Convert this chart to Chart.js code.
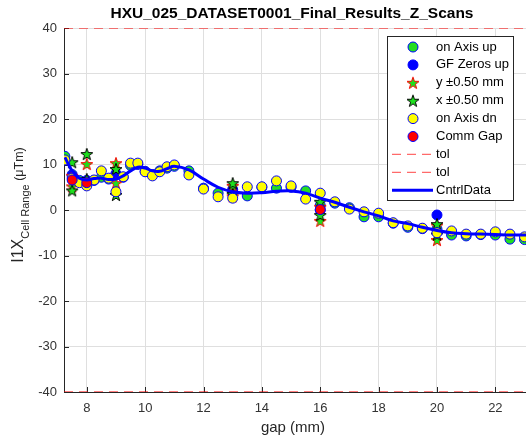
<!DOCTYPE html>
<html>
<head>
<meta charset="utf-8">
<script src="https://cdn.jsdelivr.net/npm/chart.js@4.4.1/dist/chart.umd.min.js"></script>
<style>
  body { margin: 0; background: #fff; }
  canvas { display: block; }
</style>
</head>
<body>
<canvas id="chart" width="526" height="443"></canvas>
<script>
var FONT = "'Liberation Sans', Arial, Helvetica, sans-serif";

var chartTitle = 'HXU_025_DATASET0001_Final_Results_Z_Scans';
var xTitle = 'gap (mm)';
var xTicks = [8, 10, 12, 14, 16, 18, 20, 22];
var yTicks = [-40, -30, -20, -10, 0, 10, 20, 30, 40];

// main z scans
var gapScan = [7.25, 7.5, 7.75, 8, 8.25, 8.5, 8.75, 9, 9.25, 9.5, 9.75, 10, 10.25, 10.5, 10.75, 11,
  11.5, 12, 12.5, 13, 13.5, 14, 14.5, 15, 15.5, 16, 16.5, 17, 17.5, 18, 18.5, 19, 19.5, 20, 20.5, 21, 21.5, 22, 22.5, 23];
var onAxisUp = [11.8, 7.8, 6.5, 6.0, 6.5, 7.2, 6.8, 8.0, 7.2, 9.8, 10.0, 8.5, 7.8, 8.6, 9.2, 9.6,
  8.6, 4.8, 3.7, 4.0, 3.1, 5.0, 4.8, 5.0, 4.2, 1.0, 1.5, 0.5, -1.5, -1.5, -2.9, -3.8, -4.1, -4.2, -5.5, -5.7, -5.4, -5.5, -6.4, -6.5];
var onAxisDn = [11.0, 7.0, 6.0, 5.3, 6.6, 8.6, 7.0, 4.0, 7.3, 10.3, 10.3, 8.4, 7.5, 8.4, 9.5, 9.9,
  7.7, 4.6, 2.9, 2.6, 5.1, 5.1, 6.4, 5.3, 2.4, 3.7, 1.8, 0.2, -0.4, -0.7, -2.8, -3.5, -4.0, -5.0, -4.6, -5.3, -5.3, -4.8, -5.3, -5.9];

// cross checks
var gapCross = [7.5, 8, 9, 13, 16, 20];
var gfZerosUp = [7.5, 6.5, 7.8, 4.5, 0.0, -1.1];
var gapStar = [7.5, 7.5, 8, 8, 9, 9, 13, 13, 16, 16, 20, 20];
var yStar = [7.5, 5.2, 10.1, 6.2, 10.3, 5.9, 5.3, 3.0, 0.7, -2.4, -3.4, -6.6];
var xStar = [10.5, 4.3, 12.3, 6.8, 9.0, 3.3, 5.9, 3.5, 1.8, -1.1, -3.1, -5.4];
var gapComm = [7.5, 8, 16];
var commGap = [6.6, 6.0, 0.1];

// control curve
var gapCntrl = [7.25, 7.5, 7.75, 8, 8.25, 8.5, 8.75, 9, 9.25, 9.5, 9.75, 10, 10.25, 10.5, 10.75, 11,
  11.5, 12, 12.5, 13, 13.5, 14, 14.5, 15, 15.5, 16, 16.5, 17, 17.5, 18, 18.5, 19, 19.5, 20, 20.5, 21, 21.5, 22, 22.5, 23, 23.5];
var cntrlData = [11.6, 8.6, 7.0, 6.6, 6.9, 7.0, 6.7, 6.8, 7.5, 8.6, 9.4, 9.2, 8.6, 8.5, 9.1, 9.6,
  8.8, 6.8, 5.0, 4.0, 3.7, 3.8, 4.1, 4.2, 3.7, 2.6, 1.7, 0.6, -0.4, -1.3, -2.4, -3.0, -3.8, -4.5, -5.0, -5.2, -5.3, -5.4, -5.5, -5.5, -5.5];

var tolHigh = 40, tolLow = -40;
var xMin = 7.22, xMax = 23.05;

function pts(xs, ys) {
  return xs.map(function (x, i) { return { x: x, y: ys[i] }; });
}

function makeStar(fill, edge) {
  var c = document.createElement('canvas');
  c.width = 16; c.height = 16;
  var g = c.getContext('2d');
  var R = 6.3, r = R * 0.4;
  g.beginPath();
  for (var i = 0; i < 10; i++) {
    var a = -Math.PI / 2 + i * Math.PI / 5;
    var rad = i % 2 ? r : R;
    g.lineTo(8 + rad * Math.cos(a), 8.6 + rad * Math.sin(a));
  }
  g.closePath();
  g.fillStyle = fill; g.fill();
  g.strokeStyle = edge; g.lineWidth = 1; g.stroke();
  return c;
}
var starY = makeStar('#1ee01e', '#ff0000');
var starX = makeStar('#1ee01e', '#000000');

function marker(label, data, fill, edge, order) {
  return {
    label: label, data: data, showLine: false, order: order,
    pointStyle: 'circle', pointRadius: 5, pointBorderWidth: 1,
    pointBackgroundColor: fill, pointBorderColor: edge,
    backgroundColor: fill, borderColor: edge
  };
}
function starSet(label, data, img, order) {
  return {
    label: label, data: data, showLine: false, order: order,
    pointStyle: img, pointRadius: 6, starImg: img
  };
}
function tolSet(v, order) {
  return {
    label: 'tol', data: [{ x: xMin, y: v }, { x: xMax, y: v }], order: order,
    borderColor: '#ff0000', borderWidth: 1.2, borderDash: [9, 6], pointRadius: 0, isLine: true
  };
}

var datasets = [
  marker('on Axis up', pts(gapScan, onAxisUp), '#22dd22', '#0000ff', 9),
  marker('GF Zeros up', pts(gapCross, gfZerosUp), '#0000ff', '#0000ff', 8),
  starSet('y \u00b10.50 mm', pts(gapStar, yStar), starY, 7),
  starSet('x \u00b10.50 mm', pts(gapStar, xStar), starX, 6),
  marker('on Axis dn', pts(gapScan, onAxisDn), '#ffff00', '#0000ff', 5),
  marker('Comm Gap', pts(gapComm, commGap), '#ff0000', '#0000ff', 4),
  tolSet(tolHigh, 3),
  tolSet(tolLow, 2),
  {
    label: 'CntrlData', data: pts(gapCntrl, cntrlData), order: 1, isLine: true,
    borderColor: '#0000ff', borderWidth: 3, pointRadius: 0, tension: 0.4
  }
];

var decor = {
  id: 'decor',
  beforeDatasetsDraw: function (chart) {
    var ctx = chart.ctx, a = chart.chartArea, sx = chart.scales.x, sy = chart.scales.y;
    ctx.save();
    ctx.strokeStyle = '#262626';
    ctx.lineWidth = 1;
    ctx.beginPath();
    xTicks.forEach(function (v) {
      var px = Math.round(sx.getPixelForValue(v)) + 0.5;
      ctx.moveTo(px, a.bottom); ctx.lineTo(px, a.bottom - 5);
    });
    yTicks.forEach(function (v) {
      var py = Math.round(sy.getPixelForValue(v)) + 0.5;
      ctx.moveTo(a.left, py); ctx.lineTo(a.left + 5, py);
    });
    ctx.stroke();
    ctx.restore();
  },
  afterDraw: function (chart) {
    var ctx = chart.ctx;
    ctx.save();
    // title
    ctx.fillStyle = '#000';
    ctx.font = 'bold 15.5px ' + FONT;
    ctx.textAlign = 'center';
    ctx.textBaseline = 'middle';
    ctx.fillText(chartTitle, 292, 14);
    // x title
    ctx.fillStyle = '#262626';
    ctx.font = '15px ' + FONT;
    ctx.fillText(xTitle, 293, 428);
    // y title with subscript
    ctx.translate(23, 205);
    ctx.rotate(-Math.PI / 2);
    ctx.textAlign = 'left';
    ctx.textBaseline = 'alphabetic';
    var f1 = '16px ' + FONT, f2 = '11px ' + FONT, f3 = '12.5px ' + FONT;
    ctx.font = f1; var w1 = ctx.measureText('I1X').width;
    ctx.font = f2; var w2 = ctx.measureText('Cell Range').width;
    ctx.font = f3; var w3 = ctx.measureText(' (\u03bcTm)').width;
    var s = -(w1 + w2 + w3) / 2;
    ctx.font = f1; ctx.fillText('I1X', s, 0);
    ctx.font = f2; ctx.fillText('Cell Range', s + w1, 6);
    ctx.font = f3; ctx.fillText(' (\u03bcTm)', s + w1 + w2, 0);
    ctx.restore();

    // legend
    ctx.save();
    var bx = 387.5, by = 36.5, bw = 126, bh = 164;
    ctx.fillStyle = '#fff';
    ctx.fillRect(bx, by, bw, bh);
    ctx.strokeStyle = '#262626';
    ctx.lineWidth = 1;
    ctx.strokeRect(bx, by, bw, bh);
    ctx.font = '13px ' + FONT;
    ctx.textBaseline = 'middle';
    ctx.textAlign = 'left';
    chart.data.datasets.forEach(function (d, i) {
      var y = 47 + i * 17.9;
      if (d.isLine) {
        ctx.strokeStyle = d.label === 'tol' ? '#ff6a6a' : d.borderColor;
        ctx.lineWidth = d.label === 'tol' ? 1.2 : 3;
        ctx.setLineDash(d.borderDash || []);
        ctx.beginPath(); ctx.moveTo(392, y); ctx.lineTo(433, y); ctx.stroke();
        ctx.setLineDash([]);
      } else if (d.starImg) {
        ctx.drawImage(d.starImg, 413 - 8, y - 8);
      } else {
        ctx.beginPath(); ctx.arc(413, y, 5, 0, Math.PI * 2);
        ctx.fillStyle = d.pointBackgroundColor; ctx.fill();
        ctx.strokeStyle = d.pointBorderColor; ctx.lineWidth = 1; ctx.stroke();
      }
      ctx.fillStyle = '#000';
      ctx.fillText(d.label, 436, y);
    });
    ctx.restore();
  }
};

new Chart(document.getElementById('chart'), {
  type: 'line',
  data: { datasets: datasets },
  options: {
    responsive: false,
    animation: false,
    devicePixelRatio: 1,
    layout: { autoPadding: false, padding: { top: 28, left: 0, right: 0, bottom: 0 } },
    plugins: { legend: { display: false }, tooltip: { enabled: false }, title: { display: false } },
    scales: {
      x: {
        type: 'linear', min: xMin, max: xMax,
        afterBuildTicks: function (s) { s.ticks = xTicks.map(function (v) { return { value: v }; }); },
        afterFit: function (s) { s.height = 51; s.paddingLeft = 0; s.paddingRight = 0; },
        grid: { color: '#dfdfdf', drawTicks: false },
        border: { display: true, color: '#262626' },
        ticks: { padding: 9, color: '#333', font: { size: 13, family: FONT }, maxRotation: 0, autoSkip: false }
      },
      y: {
        type: 'linear', min: tolLow, max: tolHigh,
        afterBuildTicks: function (s) { s.ticks = yTicks.map(function (v) { return { value: v }; }); },
        afterFit: function (s) { s.width = 64; s.paddingTop = 0; s.paddingBottom = 0; },
        grid: { color: '#dfdfdf', drawTicks: false },
        border: { display: true, color: '#262626' },
        ticks: { padding: 7, color: '#333', font: { size: 13, family: FONT }, autoSkip: false }
      }
    }
  },
  plugins: [decor]
});
</script>
</body>
</html>
